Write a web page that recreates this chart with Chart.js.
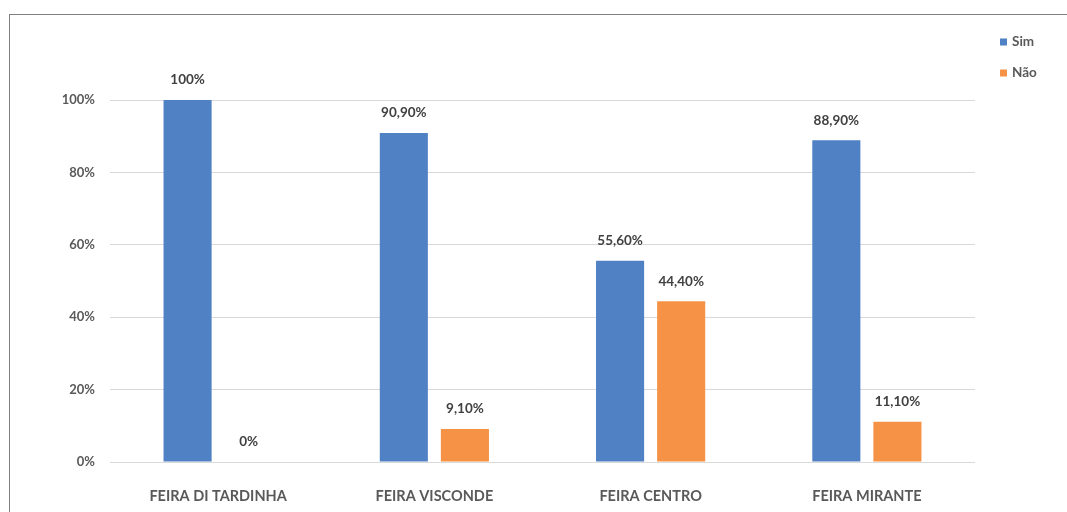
<!DOCTYPE html>
<html>
<head>
<meta charset="utf-8">
<script src="https://cdn.jsdelivr.net/npm/chart.js@4"></script>
<style>
  html, body { margin: 0; padding: 0; background: #fff; }
  #wrap { position: relative; width: 1067px; height: 512px; overflow: hidden; }
  #frame { position: absolute; left: 9px; top: 14px; width: 1100px; height: 540px;
           border: 1.5px solid #808080; box-sizing: border-box; }
  canvas { position: absolute; left: 0; top: 0; }
</style>
</head>
<body>
<div id="wrap">
  <div id="frame"></div>
  <canvas id="c" width="1067" height="512"></canvas>
</div>
<script>
// Feiras pesquisadas e percentuais de respostas
const categories = ['FEIRA DI TARDINHA', 'FEIRA VISCONDE', 'FEIRA CENTRO', 'FEIRA MIRANTE'];
const simValues = [100, 90.9, 55.6, 88.9];
const naoValues = [0, 9.1, 44.4, 11.1];
const yTicks = [0, 20, 40, 60, 80, 100];

const FONT = 'Lato, "Open Sans", sans-serif';
const BLUE = '#4F81C4';
const ORANGE = '#F59245';

function pct(v) {
  return Number.isInteger(v) ? v + '%' : v.toFixed(2).replace('.', ',') + '%';
}

// Valores escritos acima de cada barra
const valueLabels = {
  id: 'valueLabels',
  afterDatasetsDraw(chart) {
    const ctx = chart.ctx;
    ctx.save();
    ctx.font = 'bold 13.5px ' + FONT;
    ctx.fillStyle = '#404040';
    ctx.textAlign = 'center';
    ctx.textBaseline = 'middle';
    chart.data.datasets.forEach((ds, i) => {
      chart.getDatasetMeta(i).data.forEach((bar, j) => {
        ctx.fillText(pct(ds.data[j]), bar.x, bar.y - 20);
      });
    });
    ctx.restore();
  }
};

// Legenda vertical no canto superior direito
const sideLegend = {
  id: 'sideLegend',
  afterDraw(chart) {
    const ctx = chart.ctx;
    ctx.save();
    ctx.font = 'bold 13.5px ' + FONT;
    ctx.textBaseline = 'middle';
    chart.data.datasets.forEach((ds, i) => {
      const y = 42 + i * 31;
      ctx.fillStyle = ds.backgroundColor;
      ctx.fillRect(1000, y - 3.5, 7, 7);
      ctx.fillStyle = '#595959';
      ctx.fillText(ds.label, 1012, y);
    });
    ctx.restore();
  }
};

new Chart(document.getElementById('c'), {
  type: 'bar',
  data: {
    labels: categories,
    datasets: [
      { label: 'Sim', data: simValues, backgroundColor: BLUE },
      { label: 'Não', data: naoValues, backgroundColor: ORANGE }
    ]
  },
  options: {
    responsive: false,
    animation: false,
    devicePixelRatio: 1,
    categoryPercentage: 0.565,
    barPercentage: 0.787,
    layout: { padding: { top: 100, right: 92, bottom: 0, left: 0 } },
    plugins: {
      legend: { display: false },
      tooltip: { enabled: false }
    },
    scales: {
      x: {
        grid: { display: false },
        border: { display: false },
        ticks: { color: '#595959', font: { family: FONT, size: 14.5, weight: 'bold' }, padding: 18, maxRotation: 0 },
        afterFit(s) { s.height = 50; }
      },
      y: {
        min: 0,
        max: 100,
        afterBuildTicks(s) { s.ticks = yTicks.map(v => ({ value: v })); },
        grid: { color: '#d9d9d9', lineWidth: 1, drawTicks: false },
        border: { display: false },
        ticks: { color: '#595959', font: { family: FONT, size: 13, weight: 'bold' }, padding: 15,
                 callback: v => v + '%' },
        afterFit(s) { s.width = 110; }
      }
    }
  },
  plugins: [valueLabels, sideLegend]
});
</script>
</body>
</html>
